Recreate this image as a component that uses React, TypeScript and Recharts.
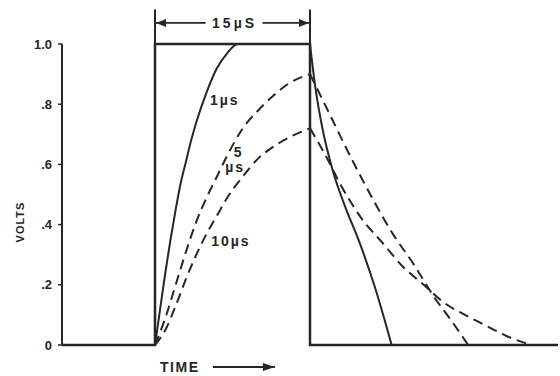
import { LineChart, Line, XAxis, YAxis, ReferenceLine, ReferenceDot } from 'recharts';

const INK = '#262626';
const FONT = '"Liberation Sans", Arial, sans-serif';

// time in µs, pulse is 15 µs wide
const pulseT = [-9, 0, 0, 15, 15, 39];
const pulseV = [0, 0, 1, 1, 0, 0];

// 1 µs (solid)
const rise1T = [0, 0.5, 1.0, 1.5, 2.0, 2.5, 3.0, 3.5, 4.0, 5.0, 6.0, 7.0, 8.0, 15];
const rise1V = [0, 0.12, 0.24, 0.35, 0.45, 0.54, 0.61, 0.68, 0.74, 0.84, 0.92, 0.97, 1.0, 1.0];
const fall1T = [15, 15.5, 16.2, 17.2, 18.4, 19.8, 21.3, 22.9];
const fall1V = [1.0, 0.86, 0.72, 0.58, 0.46, 0.34, 0.19, 0];

// 5 µs (dashed)
const rise5T = [0, 1, 2, 3, 4, 5, 6, 7, 8.5, 10, 11.5, 13, 15];
const rise5V = [0, 0.09, 0.2, 0.31, 0.41, 0.49, 0.56, 0.63, 0.72, 0.78, 0.83, 0.87, 0.9];
const fall5T = [15, 17, 19, 21, 23, 25, 27, 28.7, 30.3];
const fall5V = [0.9, 0.76, 0.62, 0.49, 0.37, 0.27, 0.16, 0.08, 0];

// 10 µs (dashed)
const rise10T = [0, 1, 2, 3, 4, 5, 6, 7, 8.5, 10, 11.5, 13, 15];
const rise10V = [0, 0.05, 0.13, 0.22, 0.3, 0.37, 0.43, 0.49, 0.56, 0.62, 0.66, 0.69, 0.72];
const fall10T = [15, 16.5, 18, 20, 22, 24, 26, 28, 30, 32, 34, 36.4];
const fall10V = [0.72, 0.63, 0.53, 0.42, 0.34, 0.26, 0.2, 0.14, 0.1, 0.065, 0.03, 0];

const yTicks = [0, 0.2, 0.4, 0.6, 0.8, 1.0];
const yTickLabels = ['0', '.2', '.4', '.6', '.8', '1.0'];

const toPoints = (ts: number[], vs: number[]) => ts.map((t, i) => ({ t, v: vs[i] }));

const textStyle = { fill: INK, fontFamily: FONT, fontWeight: 700 };

const textLabel = (value: string, fontSize = 14, spacing = 2) => (props: any) => {
  const vb = props.viewBox;
  if (!vb) return null;
  const cx = vb.x + (vb.width || 0) / 2;
  const cy = vb.y + (vb.height || 0) / 2;
  return (
    <text x={cx} y={cy} textAnchor="middle" dominantBaseline="central" fontSize={fontSize} letterSpacing={spacing} {...textStyle}>
      {value}
    </text>
  );
};

const arrowHead = (side: 'start' | 'end', len = 10, half = 4) => (props: any) => {
  const vb = props.viewBox;
  if (!vb) return null;
  const tip = side === 'start' ? vb.x : vb.x + vb.width;
  const d = side === 'start' ? 1 : -1;
  const y = vb.y;
  return <polygon points={`${tip},${y} ${tip + d * len},${y - half} ${tip + d * len},${y + half}`} fill={INK} />;
};

const dimY = 1.07;
const timeY = -0.073;
const DASH = '10 6';

export default function App() {
  return (
    <div style={{ position: 'absolute', left: 0, top: 0, width: 560, height: 376, background: '#fff' }}>
      <LineChart width={560} height={376} margin={{ top: 44, right: 2, bottom: 0, left: 0 }}>
        <XAxis
          type="number"
          dataKey="t"
          domain={[-9, 39]}
          axisLine={false}
          tickLine={false}
          tick={false}
          height={31}
        />
        <YAxis
          type="number"
          domain={[0, 1]}
          ticks={yTicks}
          tickFormatter={(v: number) => yTickLabels[yTicks.indexOf(v)]}
          width={62}
          axisLine={{ stroke: INK, strokeWidth: 2 }}
          tickLine={{ stroke: INK, strokeWidth: 1.5 }}
          tickSize={4}
          tickMargin={6}
          tick={{ ...textStyle, fontSize: 13 }}
          label={() => (
            <text x={20} y={222} textAnchor="middle" dominantBaseline="central" transform="rotate(-90 20 222)" fontSize={11} letterSpacing={1} {...textStyle}>
              VOLTS
            </text>
          )}
        />

        <Line data={toPoints(pulseT, pulseV)} dataKey="v" type="linear" stroke={INK} strokeWidth={2.5} dot={false} activeDot={false} isAnimationActive={false} />

        <Line data={toPoints(rise1T, rise1V)} dataKey="v" type="monotone" stroke={INK} strokeWidth={2} dot={false} activeDot={false} isAnimationActive={false} />
        <Line data={toPoints(fall1T, fall1V)} dataKey="v" type="monotone" stroke={INK} strokeWidth={2} dot={false} activeDot={false} isAnimationActive={false} />

        <Line data={toPoints(rise5T, rise5V)} dataKey="v" type="monotone" stroke={INK} strokeWidth={2} strokeDasharray={DASH} dot={false} activeDot={false} isAnimationActive={false} />
        <Line data={toPoints(fall5T, fall5V)} dataKey="v" type="monotone" stroke={INK} strokeWidth={2} strokeDasharray={DASH} dot={false} activeDot={false} isAnimationActive={false} />

        <Line data={toPoints(rise10T, rise10V)} dataKey="v" type="monotone" stroke={INK} strokeWidth={2} strokeDasharray={DASH} dot={false} activeDot={false} isAnimationActive={false} />
        <Line data={toPoints(fall10T, fall10V)} dataKey="v" type="monotone" stroke={INK} strokeWidth={2} strokeDasharray={DASH} dot={false} activeDot={false} isAnimationActive={false} />

        {/* 15 µs dimension above the pulse */}
        <ReferenceLine segment={[{ x: 0, y: 1 }, { x: 0, y: 1.115 }]} stroke={INK} strokeWidth={2} ifOverflow="visible" />
        <ReferenceLine segment={[{ x: 15, y: 1 }, { x: 15, y: 1.115 }]} stroke={INK} strokeWidth={2} ifOverflow="visible" />
        <ReferenceLine segment={[{ x: 0.1, y: dimY }, { x: 4.9, y: dimY }]} stroke={INK} strokeWidth={1.8} ifOverflow="visible" label={arrowHead('start')} />
        <ReferenceLine segment={[{ x: 10.4, y: dimY }, { x: 14.9, y: dimY }]} stroke={INK} strokeWidth={1.8} ifOverflow="visible" label={arrowHead('end')} />
        <ReferenceDot x={7.7} y={dimY} r={1} fill="none" stroke="none" ifOverflow="visible" label={textLabel('15µS', 14, 3)} />

        {/* curve labels */}
        <ReferenceDot x={6.75} y={0.815} r={1} fill="none" stroke="none" label={textLabel('1µs')} />
        <ReferenceDot x={8.1} y={0.64} r={1} fill="none" stroke="none" label={textLabel('5')} />
        <ReferenceDot x={7.75} y={0.59} r={1} fill="none" stroke="none" label={textLabel('µs')} />
        <ReferenceDot x={7.35} y={0.345} r={1} fill="none" stroke="none" label={textLabel('10µs')} />

        {/* time arrow */}
        <ReferenceDot x={2.4} y={timeY} r={1} fill="none" stroke="none" ifOverflow="visible" label={textLabel('TIME', 14, 1.5)} />
        <ReferenceLine segment={[{ x: 5.6, y: timeY }, { x: 11.6, y: timeY }]} stroke={INK} strokeWidth={2} ifOverflow="visible" label={arrowHead('end', 12, 4)} />
      </LineChart>
    </div>
  );
}
